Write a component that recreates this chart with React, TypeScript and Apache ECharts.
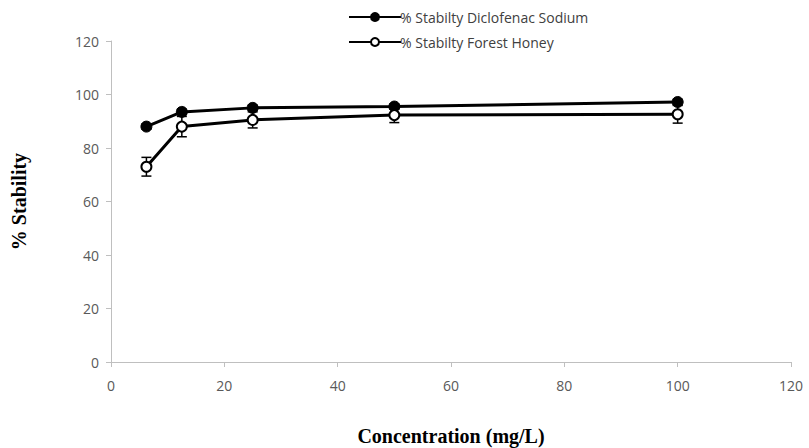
import React, { useEffect, useRef } from "react";
import * as echarts from "echarts";

const concentrations = [6.25, 12.5, 25, 50, 100];
const diclofenac = [88, 93.5, 95, 95.5, 97.2];
const diclofenacErr = [1, 1, 1, 1, 1];
const honey = [73, 88, 90.5, 92.3, 92.6];
const honeyErr = [3.5, 3.8, 3, 2.8, 3.3];
const xTicks = [0, 20, 40, 60, 80, 100, 120];
const yTicks = [0, 20, 40, 60, 80, 100, 120];

const errorSeries = (vals: number[], errs: number[]) => ({
  type: "custom",
  z: 1,
  silent: true,
  data: concentrations.map((x, i) => [x, vals[i] - errs[i], vals[i] + errs[i]]),
  renderItem: (params: any, api: any) => {
    const x = api.value(0);
    const lo = api.coord([x, api.value(1)]);
    const hi = api.coord([x, api.value(2)]);
    const w = 5;
    const st = { stroke: "#000", lineWidth: 1.5 };
    return {
      type: "group",
      children: [
        { type: "line", shape: { x1: lo[0], y1: lo[1], x2: hi[0], y2: hi[1] }, style: st },
        { type: "line", shape: { x1: lo[0] - w, y1: lo[1], x2: lo[0] + w, y2: lo[1] }, style: st },
        { type: "line", shape: { x1: hi[0] - w, y1: hi[1], x2: hi[0] + w, y2: hi[1] }, style: st },
      ],
    };
  },
});

export default function App() {
  const ref = useRef<HTMLDivElement>(null);
  useEffect(() => {
    if (!ref.current) return;
    const chart = echarts.init(ref.current, undefined, { renderer: "svg" });
    const tickLabel = { color: "#595959", fontSize: 14, fontFamily: "Open Sans" };
    chart.setOption({
      animation: false,
      backgroundColor: "#fff",
      grid: { left: 111, right: 18, top: 41, bottom: 86, containLabel: false, outerBoundsMode: "none" },
      legend: {
        orient: "vertical",
        left: 343,
        top: 5,
        itemWidth: 52,
        itemHeight: 10,
        itemGap: 11,
        textStyle: { color: "#404040", fontSize: 14, fontFamily: "Open Sans", padding: [0, 0, 0, -6] },
        data: ["% Stabilty Diclofenac Sodium", "% Stabilty Forest Honey"],
      },
      xAxis: {
        type: "value",
        min: 0,
        max: 120,
        interval: 20,
        name: "Concentration (mg/L)",
        nameLocation: "middle",
        nameGap: 64,
        nameTextStyle: { fontFamily: "Liberation Serif", fontWeight: "bold", fontSize: 20, color: "#000" },
        axisLine: { lineStyle: { color: "#bfbfbf", width: 1 } },
        axisTick: { show: true, length: 5, lineStyle: { color: "#bfbfbf" } },
        axisLabel: { ...tickLabel, margin: 16, formatter: (v: number) => (xTicks.includes(v) ? String(v) : "") },
        splitLine: { show: false },
      },
      yAxis: {
        type: "value",
        min: 0,
        max: 120,
        interval: 20,
        name: "% Stability",
        nameLocation: "middle",
        nameGap: 82,
        nameRotate: 90,
        nameTextStyle: { fontFamily: "Liberation Serif", fontWeight: "bold", fontSize: 20, color: "#000" },
        axisLine: { show: true, lineStyle: { color: "#bfbfbf", width: 1 } },
        axisTick: { show: true, length: 5, lineStyle: { color: "#bfbfbf" } },
        axisLabel: { ...tickLabel, margin: 12, formatter: (v: number) => (yTicks.includes(v) ? String(v) : "") },
        splitLine: { show: false },
      },
      series: [
        errorSeries(diclofenac, diclofenacErr),
        errorSeries(honey, honeyErr),
        {
          name: "% Stabilty Diclofenac Sodium",
          type: "line",
          z: 3,
          data: concentrations.map((x, i) => [x, diclofenac[i]]),
          symbol: "circle",
          symbolSize: 11,
          lineStyle: { color: "#000", width: 3 },
          itemStyle: { color: "#000", borderColor: "#000", borderWidth: 1 },
        },
        {
          name: "% Stabilty Forest Honey",
          type: "line",
          z: 3,
          data: concentrations.map((x, i) => [x, honey[i]]),
          symbol: "circle",
          symbolSize: 10,
          lineStyle: { color: "#000", width: 3 },
          itemStyle: { color: "#fff", borderColor: "#000", borderWidth: 2 },
        },
      ],
    });
    return () => chart.dispose();
  }, []);
  return <div ref={ref} style={{ width: 809, height: 448, position: "absolute", left: 0, top: 0 }} />;
}
